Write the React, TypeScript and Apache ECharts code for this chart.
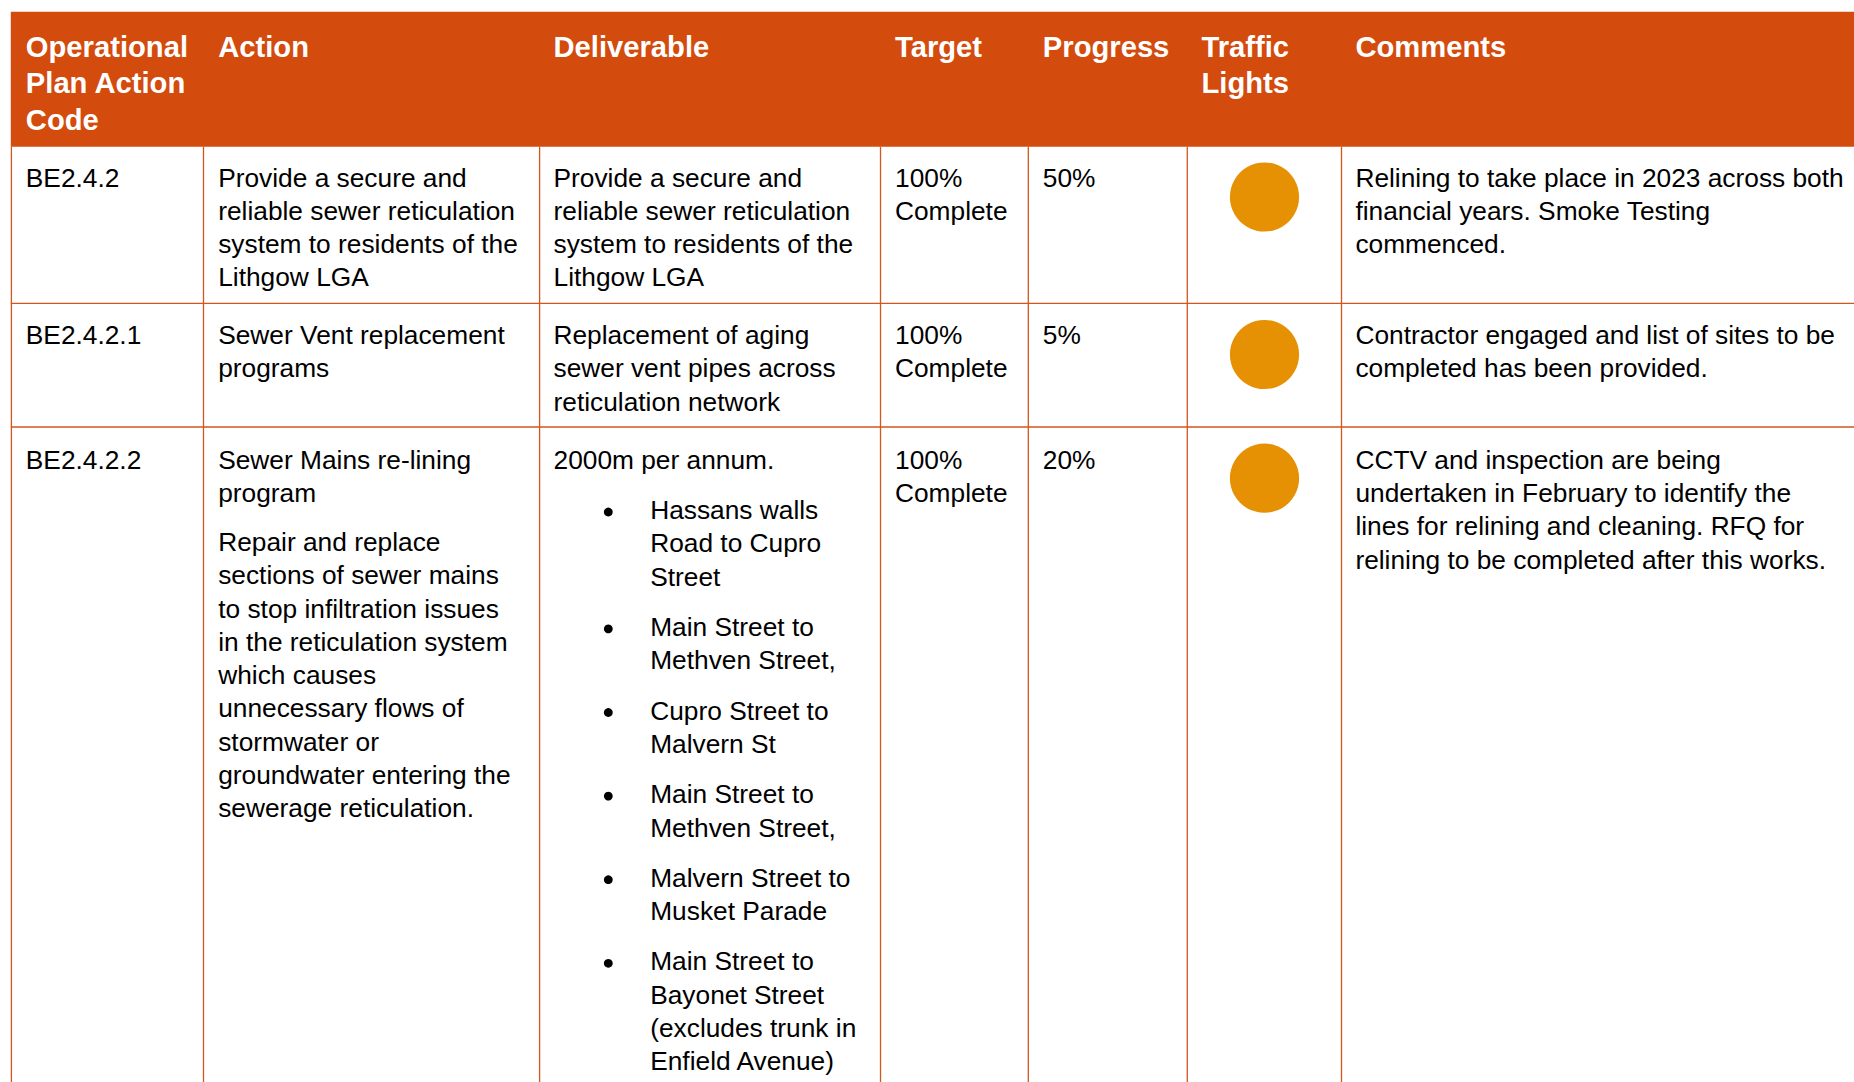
import React, { useEffect, useRef } from "react";
import * as echarts from "echarts";

// ---------- table content ----------
const headers = ["Operational\nPlan Action\nCode", "Action", "Deliverable", "Target", "Progress", "Traffic\nLights", "Comments"];

const codes = ["BE2.4.2", "BE2.4.2.1", "BE2.4.2.2"];

const actions = [
  ["Provide a secure and\nreliable sewer reticulation\nsystem to residents of the\nLithgow LGA"],
  ["Sewer Vent replacement\nprograms"],
  [
    "Sewer Mains re-lining\nprogram",
    "Repair and replace\nsections of sewer mains\nto stop infiltration issues\nin the reticulation system\nwhich causes\nunnecessary flows of\nstormwater or\ngroundwater entering the\nsewerage reticulation.",
  ],
];

const deliverables = [
  "Provide a secure and\nreliable sewer reticulation\nsystem to residents of the\nLithgow LGA",
  "Replacement of aging\nsewer vent pipes across\nreticulation network",
  "2000m per annum.",
];

const deliverableBullets = [
  "Hassans walls\nRoad to Cupro\nStreet",
  "Main Street to\nMethven Street,",
  "Cupro Street to\nMalvern St",
  "Main Street to\nMethven Street,",
  "Malvern Street to\nMusket Parade",
  "Main Street to\nBayonet Street\n(excludes trunk in\nEnfield Avenue)",
];

const targets = ["100%\nComplete", "100%\nComplete", "100%\nComplete"];
const progress = ["50%", "5%", "20%"];
const lights = ["amber", "amber", "amber"];

const comments = [
  "Relining to take place in 2023 across both\nfinancial years. Smoke Testing\ncommenced.",
  "Contractor engaged and list of sites to be\ncompleted has been provided.",
  "CCTV and inspection are being\nundertaken in February to identify the\nlines for relining and cleaning. RFQ for\nrelining to be completed after this works.",
];

// ---------- layout ----------
const W = 1854;
const H = 1082;
const FONT = '"Liberation Sans", Arial, Helvetica, sans-serif';
const HEADER_BG = "#D34B0D";
const BORDER = "#D2561E";
const LIGHT_COLORS: Record<string, string> = { amber: "#E69104", green: "#3A9A3A", red: "#D0261E" };

const TABLE_LEFT = 10.8;
const HEADER_TOP = 11.8;
const HEADER_BOTTOM = 146.7;
const COL_LINES = [203.5, 539.6, 880.5, 1028.3, 1187.3, 1341.5];
const TEXT_X = [25.8, 218.2, 553.5, 895, 1042.8, 1201.5, 1355.4];
const ROW_LINES = [303.3, 427];
const ROW_BASE = [186.7, 344.2, 469];
const LIGHT_Y = [197, 354.5, 478.2];
const LIGHT_X = 1264.5;
const LIGHT_R = 34.6;

const BODY_FS = 26.3;
const BODY_LH = 33.3;
const HEAD_FS = 29.2;
const HEAD_LH = 36.7;
const HEAD_BASE = 56.7;
const CENTRAL = 0.3465;

const BULLET_X = 608.3;
const BULLET_TEXT_X = 650.2;
const BULLET_GAP = 17;
const ACTION_GAP = 15.5;

function txt(x: number, baseline: number, text: string, bold = false, color = "#000") {
  const fs = bold ? HEAD_FS : BODY_FS;
  const lh = bold ? HEAD_LH : BODY_LH;
  const y = baseline - CENTRAL * fs - lh / 2;
  return {
    type: "text",
    x,
    y,
    silent: true,
    style: {
      text,
      fill: color,
      font: `${bold ? "bold " : ""}${fs}px ${FONT}`,
      lineHeight: lh,
      align: "left",
      verticalAlign: "top",
    },
  };
}

function lineCount(s: string) {
  return s.split("\n").length;
}

function buildElements() {
  const els: any[] = [];
  // header background
  els.push({
    type: "rect",
    shape: { x: TABLE_LEFT, y: HEADER_TOP, width: W - TABLE_LEFT, height: HEADER_BOTTOM - HEADER_TOP },
    style: { fill: HEADER_BG },
    silent: true,
  });
  // grid lines
  const vlines = [TABLE_LEFT + 0.6, ...COL_LINES];
  vlines.forEach((x) => {
    els.push({
      type: "line",
      shape: { x1: x, y1: HEADER_BOTTOM, x2: x, y2: H },
      style: { stroke: BORDER, lineWidth: 1.3 },
      silent: true,
    });
  });
  ROW_LINES.forEach((y) => {
    els.push({
      type: "line",
      shape: { x1: TABLE_LEFT, y1: y, x2: W, y2: y },
      style: { stroke: BORDER, lineWidth: 1.3 },
      silent: true,
    });
  });
  // headers
  headers.forEach((h, i) => els.push(txt(TEXT_X[i], HEAD_BASE, h, true, "#FFFFFF")));

  // rows
  for (let r = 0; r < codes.length; r++) {
    const b = ROW_BASE[r];
    els.push(txt(TEXT_X[0], b, codes[r]));
    let ab = b;
    actions[r].forEach((p) => {
      els.push(txt(TEXT_X[1], ab, p));
      ab += lineCount(p) * BODY_LH + ACTION_GAP;
    });
    els.push(txt(TEXT_X[2], b, deliverables[r]));
    els.push(txt(TEXT_X[3], b, targets[r]));
    els.push(txt(TEXT_X[4], b, progress[r]));
    els.push({
      type: "circle",
      shape: { cx: LIGHT_X, cy: LIGHT_Y[r], r: LIGHT_R },
      style: { fill: LIGHT_COLORS[lights[r]] },
      silent: true,
    });
    els.push(txt(TEXT_X[6], b, comments[r]));
  }
  // bullets in last deliverable
  let bb = ROW_BASE[2] + lineCount(deliverables[2]) * BODY_LH + BULLET_GAP;
  deliverableBullets.forEach((p) => {
    els.push({
      type: "circle",
      shape: { cx: BULLET_X, cy: bb - 7.3, r: 4.4 },
      style: { fill: "#000" },
      silent: true,
    });
    els.push(txt(BULLET_TEXT_X, bb, p));
    bb += lineCount(p) * BODY_LH + BULLET_GAP;
  });
  return els;
}

export default function App() {
  const ref = useRef<HTMLDivElement>(null);
  useEffect(() => {
    if (!ref.current) return;
    const chart = echarts.init(ref.current, undefined, { renderer: "svg", width: W, height: H });
    chart.setOption({
      animation: false,
      backgroundColor: "#FFFFFF",
      graphic: { elements: buildElements() },
    });
    return () => chart.dispose();
  }, []);
  return (
    <div
      ref={ref}
      style={{ position: "absolute", left: 0, top: 0, width: W, height: H, background: "#FFFFFF", overflow: "hidden" }}
    />
  );
}
